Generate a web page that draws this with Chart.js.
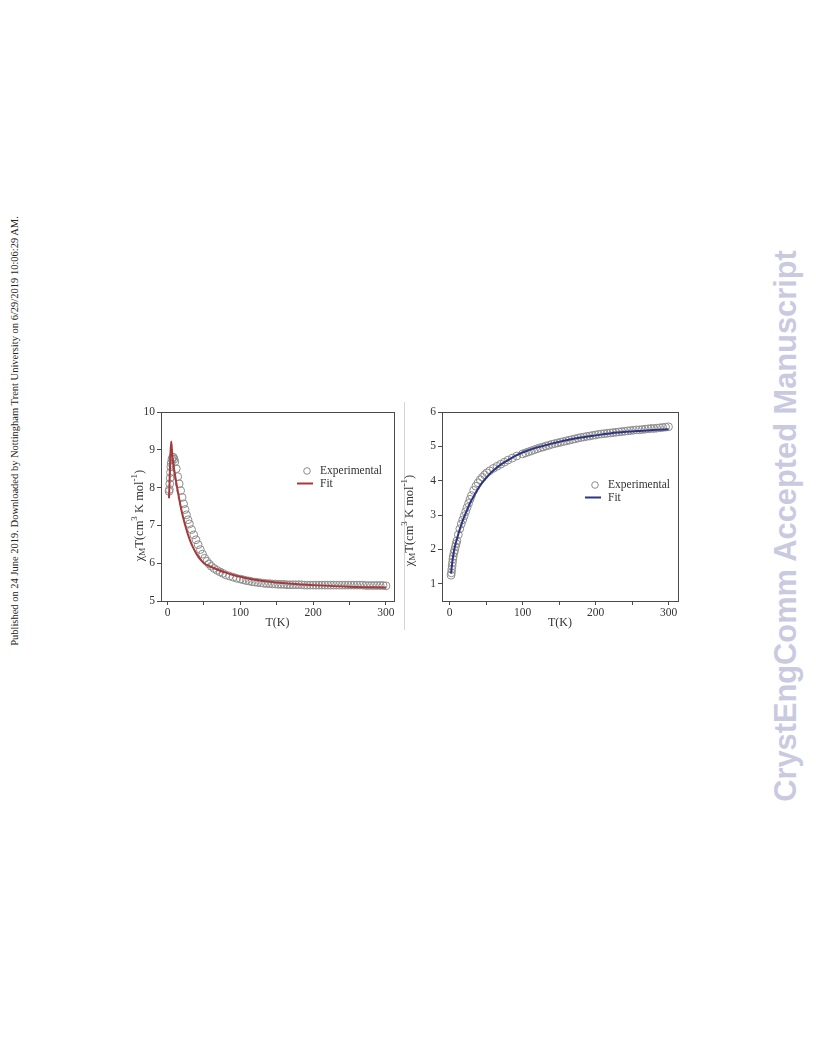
<!DOCTYPE html>
<html>
<head>
<meta charset="utf-8">
<script src="https://cdn.jsdelivr.net/npm/chart.js@4.4.1/dist/chart.umd.min.js"></script>
<style>
  html, body { margin:0; padding:0; background:#fff; }
  body { width:816px; height:1056px; position:relative; overflow:hidden; }
  .side { position:absolute; white-space:nowrap; transform:translate(-50%,-50%) rotate(-90deg); }
  #pub { left:14px; top:431px; font-family:"Liberation Serif", serif; font-size:10.5px; color:#222; }
  #journal { left:786px; top:526px; font-family:"Liberation Sans", Arial, sans-serif; font-weight:bold; font-size:30.8px; color:#c9cadf; }
  #sep { position:absolute; left:404px; top:402px; width:1px; height:228px; background:#d4d4d4; }
  canvas { position:absolute; }
  #c1 { left:120px; top:395px; }
  #c2 { left:398px; top:395px; }
</style>
</head>
<body>
<div id="pub" class="side">Published on 24 June 2019. Downloaded by Nottingham Trent University on 6/29/2019 10:06:29 AM.</div>
<div id="journal" class="side">CrystEngComm Accepted Manuscript</div>
<div id="sep"></div>
<canvas id="c1" width="290" height="255"></canvas>
<canvas id="c2" width="288" height="255"></canvas>
<script>
// ---------------- data ----------------
const seriesNames = ['Experimental', 'Fit'];
const xTickValues = [0, 50, 100, 150, 200, 250, 300];
const xTickLabels = ['0', '', '100', '', '200', '', '300'];
const leftYTicks = [5, 6, 7, 8, 9, 10];
const rightYTicks = [1, 2, 3, 4, 5, 6];

// Left panel: experimental
const leftExpT = [2, 2.5, 3, 3.5, 4, 4.5, 5, 6, 7, 8, 9, 10, 12, 14, 16, 18, 20, 22, 24, 26, 28, 30, 33, 36, 39, 42, 45, 48, 51, 54, 57, 60, 64, 68, 72, 76, 80, 85, 90, 95, 100, 104, 108, 112, 116, 120, 124, 128, 132, 136, 140, 144, 148, 152, 156, 160, 164, 168, 172, 176, 180, 184, 188, 192, 196, 200, 204, 208, 212, 216, 220, 224, 228, 232, 236, 240, 244, 248, 252, 256, 260, 264, 268, 272, 276, 280, 284, 288, 292, 296, 300];
const leftExpV = [7.9, 7.95, 8.1, 8.25, 8.4, 8.55, 8.65, 8.75, 8.8, 8.8, 8.75, 8.68, 8.5, 8.29, 8.1, 7.92, 7.74, 7.57, 7.42, 7.28, 7.15, 7.04, 6.89, 6.75, 6.62, 6.49, 6.36, 6.24, 6.13, 6.05, 5.98, 5.92, 5.86, 5.81, 5.77, 5.73, 5.69, 5.66, 5.63, 5.6, 5.58, 5.56, 5.54, 5.53, 5.51, 5.5, 5.49, 5.48, 5.47, 5.46, 5.46, 5.45, 5.45, 5.44, 5.44, 5.44, 5.43, 5.43, 5.43, 5.43, 5.43, 5.43, 5.42, 5.42, 5.42, 5.42, 5.42, 5.42, 5.42, 5.42, 5.42, 5.42, 5.42, 5.42, 5.42, 5.42, 5.42, 5.42, 5.42, 5.42, 5.42, 5.42, 5.42, 5.41, 5.41, 5.41, 5.41, 5.41, 5.41, 5.41, 5.4];
// Left panel: fit
const leftFitT = [2, 3, 4, 5, 6, 7, 8, 10, 12, 14, 16, 18, 20, 22, 25, 28, 31, 35, 40, 45, 50, 60, 70, 80, 90, 100, 120, 150, 180, 200, 250, 300];
const leftFitV = [7.72, 8.3, 8.9, 9.22, 9.0, 8.78, 8.62, 8.36, 8.13, 7.91, 7.7, 7.5, 7.32, 7.16, 6.95, 6.76, 6.6, 6.42, 6.24, 6.1, 6.0, 5.9, 5.82, 5.75, 5.69, 5.64, 5.56, 5.49, 5.44, 5.42, 5.38, 5.36];

// Right panel: experimental
const rightExpT = [2, 2.5, 3, 3.5, 4, 4.5, 5, 6, 7, 8, 9, 10, 12, 14, 16, 18, 20, 22, 24, 26, 28, 30, 33, 36, 39, 42, 45, 48, 51, 55, 60, 65, 70, 75, 80, 86, 92, 100, 104, 108, 112, 116, 120, 124, 128, 132, 136, 140, 144, 148, 152, 156, 160, 164, 168, 172, 176, 180, 184, 188, 192, 196, 200, 204, 208, 212, 216, 220, 224, 228, 232, 236, 240, 244, 248, 252, 256, 260, 264, 268, 272, 276, 280, 284, 288, 292, 296, 300];
const rightExpV = [1.25, 1.32, 1.42, 1.52, 1.62, 1.72, 1.8, 1.9, 1.98, 2.08, 2.17, 2.25, 2.43, 2.6, 2.74, 2.86, 2.98, 3.1, 3.22, 3.34, 3.46, 3.57, 3.72, 3.84, 3.94, 4.03, 4.1, 4.17, 4.23, 4.29, 4.36, 4.42, 4.48, 4.54, 4.6, 4.66, 4.72, 4.78, 4.81, 4.84, 4.87, 4.9, 4.93, 4.96, 4.98, 5.01, 5.03, 5.06, 5.08, 5.1, 5.12, 5.14, 5.16, 5.18, 5.2, 5.22, 5.24, 5.26, 5.27, 5.29, 5.3, 5.32, 5.33, 5.35, 5.36, 5.37, 5.38, 5.39, 5.4, 5.41, 5.42, 5.43, 5.44, 5.45, 5.46, 5.47, 5.48, 5.48, 5.49, 5.5, 5.51, 5.52, 5.52, 5.53, 5.54, 5.55, 5.56, 5.57];
// Right panel: fit
const rightFitT = [2, 3, 4, 5, 6, 8, 10, 12, 15, 18, 21, 24, 27, 30, 35, 40, 45, 50, 55, 60, 70, 80, 90, 100, 120, 140, 160, 180, 200, 230, 260, 300];
const rightFitV = [1.3, 1.5, 1.68, 1.82, 1.95, 2.15, 2.3, 2.45, 2.65, 2.84, 3.0, 3.15, 3.3, 3.43, 3.62, 3.8, 3.95, 4.08, 4.2, 4.3, 4.47, 4.6, 4.72, 4.82, 4.97, 5.08, 5.18, 5.26, 5.32, 5.4, 5.45, 5.5];

// ---------------- helpers ----------------
const SERIF = '"Liberation Serif", "Times New Roman", serif';
const toPts = (xs, ys) => xs.map((x, i) => ({ x: x, y: ys[i] }));

const boxPlugin = {
  id: 'box',
  afterDraw(chart) {
    const { ctx, chartArea: a } = chart;
    ctx.save();
    ctx.strokeStyle = '#4a4a4a';
    ctx.lineWidth = 1;
    ctx.strokeRect(Math.round(a.left) + 0.5, Math.round(a.top) + 0.5, Math.round(a.right - a.left), Math.round(a.bottom - a.top));
    ctx.restore();
  }
};

const yTitlePlugin = {
  id: 'yTitleRich',
  afterDraw(chart, args, opts) {
    const { ctx, chartArea: a } = chart;
    const parts = [
      { t: 'χ', size: 12.5, dy: 0 },
      { t: 'M', size: 9, dy: 3 },
      { t: 'T(cm', size: 12.5, dy: 0 },
      { t: '3', size: 9, dy: -5 },
      { t: ' K mol', size: 12.5, dy: 0 },
      { t: '-1', size: 9, dy: -5 },
      { t: ')', size: 12.5, dy: 0 }
    ];
    ctx.save();
    let total = 0;
    parts.forEach(p => { ctx.font = p.size + 'px ' + SERIF; p.w = ctx.measureText(p.t).width; total += p.w; });
    const cx = a.left + opts.dx;
    const cy = (a.top + a.bottom) / 2 + opts.dy;
    ctx.translate(cx, cy);
    ctx.rotate(-Math.PI / 2);
    ctx.fillStyle = '#333';
    ctx.textBaseline = 'middle';
    let x = -total / 2;
    parts.forEach(p => {
      ctx.font = p.size + 'px ' + SERIF;
      ctx.fillText(p.t, x, p.dy);
      x += p.w;
    });
    ctx.restore();
  }
};

const legendPlugin = {
  id: 'innerLegend',
  afterDraw(chart, args, opts) {
    const { ctx, chartArea: a } = chart;
    const ds = chart.data.datasets;
    const x0 = a.left + opts.x, y0 = a.top + opts.y;
    ctx.save();
    ctx.font = '11.5px ' + SERIF;
    ctx.fillStyle = '#333';
    ctx.textBaseline = 'middle';
    ctx.beginPath();
    ctx.arc(x0, y0, 3.3, 0, Math.PI * 2);
    ctx.strokeStyle = ds[1].borderColor;
    ctx.lineWidth = 1;
    ctx.stroke();
    ctx.fillText(ds[1].label, x0 + 13, y0);
    ctx.beginPath();
    ctx.moveTo(x0 - 10, y0 + 12.5);
    ctx.lineTo(x0 + 6, y0 + 12.5);
    ctx.strokeStyle = ds[0].borderColor;
    ctx.lineWidth = 2;
    ctx.stroke();
    ctx.fillText(ds[0].label, x0 + 13, y0 + 12.5);
    ctx.restore();
  }
};

function makeChart(id, expT, expV, fitT, fitV, fitColor, yTicks, xr, yr, pad, yWidth, legendPos, titleOff) {
  return new Chart(document.getElementById(id), {
    type: 'scatter',
    data: {
      datasets: [
        {
          label: seriesNames[1],
          data: toPts(fitT, fitV),
          showLine: true,
          borderColor: fitColor,
          backgroundColor: fitColor,
          borderWidth: 2,
          pointRadius: 0,
          cubicInterpolationMode: 'monotone',
          order: 0
        },
        {
          label: seriesNames[0],
          data: toPts(expT, expV),
          showLine: false,
          borderColor: '#8c8c8c',
          backgroundColor: 'rgba(0,0,0,0)',
          borderWidth: 1,
          pointRadius: 3.9,
          pointStyle: 'circle',
          order: 1
        }
      ]
    },
    options: {
      responsive: false,
      animation: false,
      events: [],
      layout: { padding: pad },
      plugins: {
        legend: { display: false },
        tooltip: { enabled: false },
        innerLegend: legendPos,
        yTitleRich: titleOff
      },
      scales: {
        x: {
          type: 'linear',
          min: xr[0], max: xr[1],
          afterBuildTicks: s => { s.ticks = xTickValues.map(v => ({ value: v })); },
          afterFit: s => { s.height = 30; },
          border: { display: true, color: '#4a4a4a', width: 1 },
          grid: { drawOnChartArea: false, drawTicks: true, tickLength: 4, color: '#4a4a4a' },
          ticks: {
            color: '#333',
            padding: 1,
            maxRotation: 0,
            autoSkip: false,
            font: { family: SERIF, size: 11.5 },
            callback: (v) => xTickLabels[xTickValues.indexOf(v)]
          },
          title: { display: true, text: 'T(K)', color: '#333', font: { family: SERIF, size: 12 }, padding: { top: 0, bottom: 1 } }
        },
        y: {
          type: 'linear',
          min: yr[0], max: yr[1],
          afterBuildTicks: s => { s.ticks = yTicks.map(v => ({ value: v })); },
          afterFit: s => { s.width = yWidth; },
          border: { display: true, color: '#4a4a4a', width: 1 },
          grid: { drawOnChartArea: false, drawTicks: true, tickLength: 4, color: '#4a4a4a' },
          ticks: { color: '#333', padding: 2, autoSkip: false, font: { family: SERIF, size: 11.5 } },
          title: { display: false }
        }
      }
    },
    plugins: [boxPlugin, yTitlePlugin, legendPlugin]
  });
}

makeChart('c1', leftExpT, leftExpV, leftFitT, leftFitV, '#a63a3a', leftYTicks,
  [-9, 311], [5, 10], { left: 0, top: 17, right: 16, bottom: 19 }, 41,
  { x: 146, y: 59 }, { dx: -21, dy: 9 });

makeChart('c2', rightExpT, rightExpV, rightFitT, rightFitV, '#2e3480', rightYTicks,
  [-10.4, 313], [0.5, 6], { left: 0, top: 17, right: 8, bottom: 19 }, 44,
  { x: 153, y: 73 }, { dx: -32, dy: 14 });
</script>
</body>
</html>
